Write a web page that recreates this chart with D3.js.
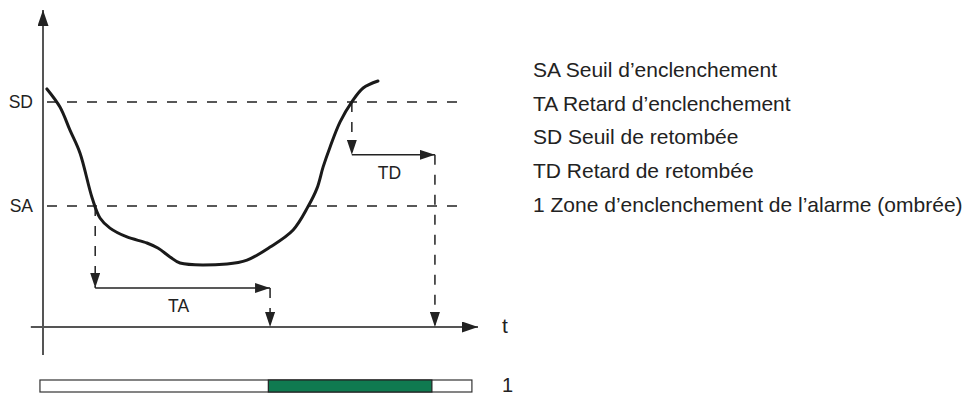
<!DOCTYPE html>
<html>
<head>
<meta charset="utf-8">
<script src="https://cdn.jsdelivr.net/npm/d3@7"></script>
<style>
  body { margin: 0; background: #fff; }
  text { font-family: "Liberation Sans", Arial, sans-serif; fill: #222; }
</style>
</head>
<body>
<div id="chart"></div>
<script>
// signal curve (time in s, level in %)
const curveTime = [0.09, 0.39, 0.62, 0.85, 1.13, 1.31, 1.54, 1.93, 2.39, 2.64, 2.92, 3.15,
  4.23, 4.69, 5.22, 5.75, 6.09, 6.30, 6.44, 6.60, 6.83, 7.10, 7.36, 7.70]
const curveLevel = [75.1, 69.4, 62.1, 54.9, 40.7, 34.4, 31.2, 28.4, 26.5, 24.9, 22.1, 20.2,
  19.9, 21.1, 25.2, 30.6, 37.9, 43.8, 50.5, 56.8, 64.7, 71.0, 75.4, 77.6]

// thresholds
const thresholdNames = ["SD", "SA"]
const thresholdLevels = [71, 38.2]

// delays: start time, end time, arrow level
const delayNames = ["TA", "TD"]
const delayStart = [1.2, 7.1]
const delayEnd = [5.22, 9.01]
const delayLevel = [12.3, 54.3]

// alarm zone bar
const barExtent = [-0.07, 9.86]
const alarmZone = [5.18, 8.94]

const legendLines = [
  "SA Seuil d\u2019enclenchement",
  "TA Retard d\u2019enclenchement",
  "SD Seuil de retomb\u00e9e",
  "TD Retard de retomb\u00e9e",
  "1 Zone d\u2019enclenchement de l\u2019alarme (ombr\u00e9e)"
]

const width = 970
const height = 396

const x = d3.scaleLinear().domain([0, 10]).range([43, 478])
const y = d3.scaleLinear().domain([0, 100]).range([327, 10])

const svg = d3.select("#chart")
  .append("svg")
  .attr("width", width)
  .attr("height", height)

// arrow heads
const defs = svg.append("defs")
function marker(id, len, w) {
  defs.append("marker")
    .attr("id", id)
    .attr("markerUnits", "userSpaceOnUse")
    .attr("viewBox", `0 0 ${len} ${w}`)
    .attr("refX", len)
    .attr("refY", w / 2)
    .attr("markerWidth", len)
    .attr("markerHeight", w)
    .attr("orient", "auto")
    .append("path")
    .attr("d", `M0,0L${len},${w / 2}L0,${w}Z`)
    .attr("fill", "#222")
}
marker("arrow", 15, 10)
marker("axisArrow", 16, 11)

// axes
svg.append("line")
  .attr("x1", x(0)).attr("x2", x(0))
  .attr("y1", y(-8.8)).attr("y2", y(100))
  .attr("stroke", "#555").attr("stroke-width", 2)
  .attr("marker-end", "url(#axisArrow)")

svg.append("line")
  .attr("x1", x(-0.28)).attr("x2", x(10))
  .attr("y1", y(0)).attr("y2", y(0))
  .attr("stroke", "#555").attr("stroke-width", 2)
  .attr("marker-end", "url(#axisArrow)")

svg.append("text")
  .attr("x", x(10) + 24).attr("y", y(0) + 6)
  .attr("font-size", 21)
  .text("t")

// threshold lines
thresholdNames.forEach((name, i) => {
  svg.append("line")
    .attr("x1", x(0)).attr("x2", x(9.54))
    .attr("y1", y(thresholdLevels[i])).attr("y2", y(thresholdLevels[i]))
    .attr("stroke", "#222").attr("stroke-width", 1.5)
    .attr("stroke-dasharray", "10,10")
    .attr("stroke-dashoffset", -4)
  svg.append("text")
    .attr("x", x(0) - 10).attr("y", y(thresholdLevels[i]))
    .attr("dy", "0.36em")
    .attr("text-anchor", "end")
    .attr("font-size", 17.5)
    .text(name)
})

// delays
delayNames.forEach((name, i) => {
  const thr = name === "TA" ? thresholdLevels[1] : thresholdLevels[0]
  svg.append("line")
    .attr("x1", x(delayStart[i])).attr("x2", x(delayStart[i]))
    .attr("y1", y(thr)).attr("y2", y(delayLevel[i]))
    .attr("stroke", "#222").attr("stroke-width", 1.5)
    .attr("stroke-dasharray", "10,10")
    .attr("marker-end", "url(#arrow)")
  svg.append("line")
    .attr("x1", x(delayStart[i])).attr("x2", x(delayEnd[i]))
    .attr("y1", y(delayLevel[i])).attr("y2", y(delayLevel[i]))
    .attr("stroke", "#222").attr("stroke-width", 1.5)
    .attr("marker-end", "url(#arrow)")
  svg.append("line")
    .attr("x1", x(delayEnd[i])).attr("x2", x(delayEnd[i]))
    .attr("y1", y(delayLevel[i])).attr("y2", y(0))
    .attr("stroke", "#222").attr("stroke-width", 1.5)
    .attr("stroke-dasharray", "10,10")
    .attr("marker-end", "url(#arrow)")
  svg.append("text")
    .attr("x", (x(delayStart[i]) + x(delayEnd[i])) / 2 - 4)
    .attr("y", y(delayLevel[i]) + 18)
    .attr("dy", "0.36em")
    .attr("text-anchor", "middle")
    .attr("font-size", 17.5)
    .text(name)
})

// signal curve
const pts = curveTime.map((t, i) => [t, curveLevel[i]])
const lineGen = d3.line()
  .x(d => x(d[0]))
  .y(d => y(d[1]))
  .curve(d3.curveCatmullRom)

svg.append("path")
  .attr("d", lineGen(pts))
  .attr("fill", "none")
  .attr("stroke", "#1a1a1a")
  .attr("stroke-width", 3)
  .attr("stroke-linecap", "round")

// alarm zone bar
const barY = 380
const barH = 12
svg.append("rect")
  .attr("x", x(barExtent[0])).attr("y", barY)
  .attr("width", x(barExtent[1]) - x(barExtent[0])).attr("height", barH)
  .attr("fill", "#fff").attr("stroke", "#333").attr("stroke-width", 1.2)
svg.append("rect")
  .attr("x", x(alarmZone[0])).attr("y", barY)
  .attr("width", x(alarmZone[1]) - x(alarmZone[0])).attr("height", barH)
  .attr("fill", "#0f7a50").attr("stroke", "#222").attr("stroke-width", 1.2)
svg.append("text")
  .attr("x", x(barExtent[1]) + 30).attr("y", barY + barH / 2 - 1)
  .attr("dy", "0.36em")
  .attr("font-size", 20)
  .text("1")

// legend
svg.append("g")
  .selectAll("text")
  .data(legendLines)
  .join("text")
  .attr("x", 533)
  .attr("y", (d, i) => 77 + i * 33.7)
  .attr("font-size", 21)
  .text(d => d)
</script>
</body>
</html>
